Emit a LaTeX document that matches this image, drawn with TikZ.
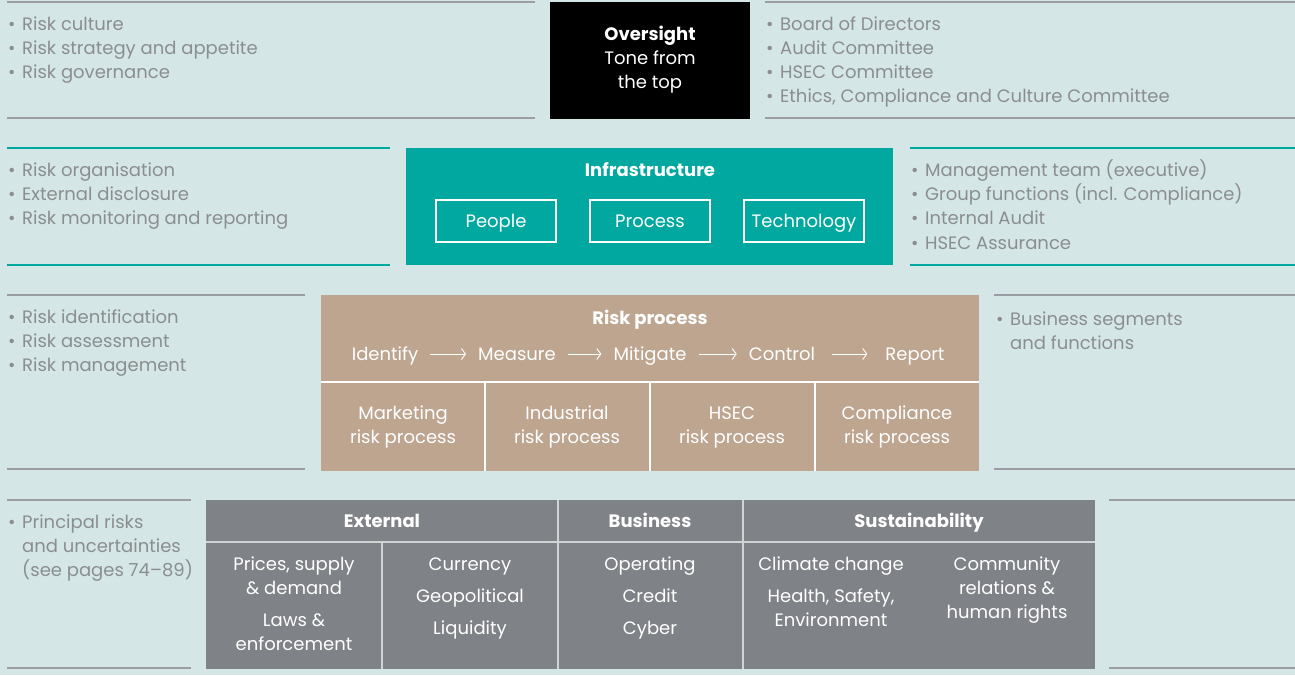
\documentclass[tikz,border=0pt]{standalone}
\usepackage{fontspec}
\setmainfont{Poppins}
\usetikzlibrary{arrows.meta}
\definecolor{bgc}{HTML}{D4E6E6}
\definecolor{tealc}{HTML}{00A89F}
\definecolor{tanc}{HTML}{BDA590}
\definecolor{greyc}{HTML}{7F8286}
\definecolor{txtc}{HTML}{8B8E90}
\definecolor{linec}{HTML}{9B9EA0}
\definecolor{cellline}{HTML}{D0D4D4}
\tikzset{
  txt/.style={inner sep=0pt, text height=12pt, text depth=0pt, font=\fontsize{18}{21}\selectfont},
  btxt/.style={txt, font=\fontsize{18}{21}\selectfont\bfseries},
  gtxt/.style={txt, text=txtc, anchor=west},
  wtxt/.style={txt, text=white},
  wbtxt/.style={btxt, text=white},
  rule/.style={draw=linec, line width=1.5pt},
  trule/.style={draw=tealc, line width=1.5pt},
  panel/.style={inner sep=0pt, outer sep=0pt, draw=none},
  subbox/.style={draw=white, line width=1.2pt, inner sep=0pt, minimum width=120pt, minimum height=42pt},
  cellsep/.style={draw=cellline, line width=1.5pt},
  flow/.style={draw=white, line width=0.9pt, -{Straight Barb[length=4pt,width=11pt]}, shorten <=12pt, shorten >=12pt},
}
\newcommand{\bul}[4]{% name, x, y, text
  \node[gtxt] (#1) at (#2,#3) {\makebox[14pt][l]{•}#4};}
\newcommand{\cont}[4]{%
  \node[gtxt] (#1) at (#2,#3) {\hspace*{14pt}#4};}
\begin{document}
\begin{tikzpicture}[x=1pt,y=-1pt]
\useasboundingbox (0,0) rectangle (1295,675);
\fill[bgc] (0,0) rectangle (1295,675);

% ---------------- Row 1 ----------------
\draw[rule] (7,2) -- (535,2);
\draw[rule] (7,118) -- (535,118);
\draw[rule] (765,2) -- (1295,2);
\draw[rule] (765,118) -- (1295,118);
\node[panel, fill=black, minimum width=200pt, minimum height=117pt] (ov) at (650,60) {};
\node[wbtxt] (ov1) at (650,34) {Oversight};
\node[wtxt] (ov2) at (650,58) {Tone from};
\node[wtxt] (ov3) at (650,82) {the top};
\bul{a1}{8}{24}{Risk culture}
\bul{a2}{8}{48}{Risk strategy and appetite}
\bul{a3}{8}{72}{Risk governance}
\bul{b1}{766}{24}{Board of Directors}
\bul{b2}{766}{48}{Audit Committee}
\bul{b3}{766}{72}{HSEC Committee}
\bul{b4}{766}{96}{Ethics, Compliance and Culture Committee}

% ---------------- Row 2 ----------------
\draw[trule] (7,148) -- (390,148);
\draw[trule] (7,265) -- (390,265);
\draw[trule] (910,148) -- (1295,148);
\draw[trule] (910,265) -- (1295,265);
\node[panel, fill=tealc, minimum width=487pt, minimum height=117pt] (inf) at (649.5,206.5) {};
\node[wbtxt] (inft) at (650,170) {Infrastructure};
\node[subbox] (ppl) at (496,221) {};
\node[subbox] (prc) at (650,221) {};
\node[subbox] (tec) at (804,221) {};
\node[wtxt] at (ppl.center) {People};
\node[wtxt] at (prc.center) {Process};
\node[wtxt] at (tec.center) {Technology};
\bul{c1}{8}{170}{Risk organisation}
\bul{c2}{8}{194}{External disclosure}
\bul{c3}{8}{218}{Risk monitoring and reporting}
\bul{d1}{911}{170}{Management team (executive)}
\bul{d2}{911}{194}{Group functions (incl. Compliance)}
\bul{d3}{911}{218}{Internal Audit}
\bul{d4}{911}{243}{HSEC Assurance}

% ---------------- Row 3 ----------------
\draw[rule] (7,295) -- (305,295);
\draw[rule] (7,469) -- (305,469);
\draw[rule] (994,295) -- (1295,295);
\draw[rule] (994,469) -- (1295,469);
\node[panel, fill=tanc, minimum width=658pt, minimum height=176pt] (rp) at (650,383) {};
\node[wbtxt] (rpt) at (650,318) {Risk process};
\node[wtxt] (s1) at (385,354) {Identify};
\node[wtxt] (s2) at (517,354) {Measure};
\node[wtxt] (s3) at (650,354) {Mitigate};
\node[wtxt] (s4) at (782,354) {Control};
\node[wtxt] (s5) at (915,354) {Report};
\draw[flow] (s1.east) -- (s2.west);
\draw[flow] (s2.east) -- (s3.west);
\draw[flow] (s3.east) -- (s4.west);
\draw[flow, shorten <=17pt, shorten >=18pt] (s4.east) -- (s5.west);
\coordinate (rpl) at (321,382);
\coordinate (rpr) at (979,382);
\draw[draw=white, line width=1.5pt] (rpl) -- (rpr);
\foreach \xx/\nm in {485/v1,650/v2,815/v3}{
  \coordinate (\nm t) at (\xx,382);
  \coordinate (\nm b) at (\xx,471);
  \draw[draw=white, line width=1.5pt] (\nm t) -- (\nm b);
}
\node[wtxt] (m1) at (403,413) {Marketing};
\node[wtxt] (m2) at (403,437) {risk process};
\node[wtxt] (i1) at (567,413) {Industrial};
\node[wtxt] (i2) at (567,437) {risk process};
\node[wtxt] (h1) at (732,413) {HSEC};
\node[wtxt] (h2) at (732,437) {risk process};
\node[wtxt] (k1) at (897,413) {Compliance};
\node[wtxt] (k2) at (897,437) {risk process};
\bul{e1}{8}{317}{Risk identification}
\bul{e2}{8}{341}{Risk assessment}
\bul{e3}{8}{365}{Risk management}
\bul{f1}{996}{319}{Business segments}
\cont{f2}{996}{343}{and functions}

% ---------------- Row 4 ----------------
\draw[rule] (7,500) -- (191,500);
\draw[rule] (7,668) -- (191,668);
\draw[rule] (1109,500) -- (1295,500);
\draw[rule] (1109,668) -- (1295,668);
\node[panel, fill=greyc, minimum width=889pt, minimum height=169pt] (tab) at (650.5,584.5) {};
\coordinate (hl) at (206,542);
\coordinate (hr) at (1095,542);
\draw[cellsep] (hl) -- (hr);
\coordinate (g1t) at (558,500); \coordinate (g1b) at (558,669);
\coordinate (g2t) at (743,500); \coordinate (g2b) at (743,669);
\coordinate (g3t) at (382,542); \coordinate (g3b) at (382,669);
\draw[cellsep] (g1t) -- (g1b);
\draw[cellsep] (g2t) -- (g2b);
\draw[cellsep] (g3t) -- (g3b);
\node[wbtxt] (ext) at (382,521) {External};
\node[wbtxt] (bus) at (650,521) {Business};
\node[wbtxt] (sus) at (919,521) {Sustainability};
\node[wtxt] (x1) at (294,564) {Prices, supply};
\node[wtxt] (x2) at (294,588) {\& demand};
\node[wtxt] (x3) at (294,620) {Laws \&};
\node[wtxt] (x4) at (294,644) {enforcement};
\node[wtxt] (y1) at (470,564) {Currency};
\node[wtxt] (y2) at (470,596) {Geopolitical};
\node[wtxt] (y3) at (470,628) {Liquidity};
\node[wtxt] (z1) at (650,564) {Operating};
\node[wtxt] (z2) at (650,596) {Credit};
\node[wtxt] (z3) at (650,628) {Cyber};
\node[wtxt] (w1) at (831,564) {Climate change};
\node[wtxt] (w2) at (831,596) {Health, Safety,};
\node[wtxt] (w3) at (831,620) {Environment};
\node[wtxt] (u1) at (1007,564) {Community};
\node[wtxt] (u2) at (1007,588) {relations \&};
\node[wtxt] (u3) at (1007,612) {human rights};
\bul{p1}{8}{522}{Principal risks}
\cont{p2}{8}{546}{and uncertainties}
\cont{p3}{8}{570}{(see pages 74–89)}
\end{tikzpicture}
\end{document}
